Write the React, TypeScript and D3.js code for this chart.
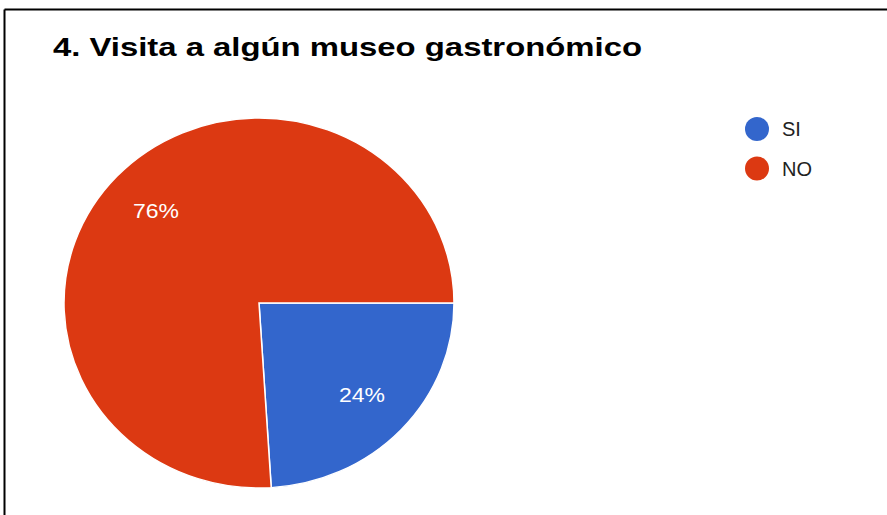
import React from "react";
import * as d3 from "d3";

const categories = ["SI", "NO"];
const values = [24, 76];
const colors = ["#3366cc", "#dc3912"];
const title = "4. Visita a algún museo gastronómico";

const W = 887;
const H = 515;
const cx = 259;
const cy = 303;
const rx = 195;
const ry = 185;

export default function App() {
  const pie = d3
    .pie<number>()
    .sort(null)
    .startAngle(Math.PI / 2)
    .endAngle(Math.PI / 2 + 2 * Math.PI);
  const arcs = pie(values);
  const arc = d3.arc<d3.PieArcDatum<number>>().innerRadius(0).outerRadius(rx);
  const labelArc = d3
    .arc<d3.PieArcDatum<number>>()
    .innerRadius(rx * 0.725)
    .outerRadius(rx * 0.725);
  const total = d3.sum(values);
  const sy = ry / rx;

  return (
    <div style={{ position: "fixed", left: 0, top: 0 }}>
      <svg width={W} height={H} style={{ display: "block", background: "#fff" }}>
        <rect x={0} y={0} width={W} height={H} fill="#fff" />
        <line x1={4.5} y1={9.5} x2={W} y2={9.5} stroke="#000" strokeWidth={2} />
        <line x1={4.5} y1={9.5} x2={4.5} y2={H} stroke="#000" strokeWidth={2} />
        <text
          x={53}
          y={56}
          fontFamily="'Liberation Sans', Arial, sans-serif"
          fontWeight="bold"
          fontSize={26}
          fill="#000"
          textLength={589}
          lengthAdjust="spacingAndGlyphs"
        >
          {title}
        </text>
        <g transform={`translate(${cx},${cy}) scale(1,${sy})`}>
          {arcs.map((a, i) => (
            <path key={categories[i]} d={arc(a) || ""} fill={colors[i]} stroke="#fff" strokeWidth={1.5} />
          ))}
        </g>
        {arcs.map((a, i) => {
          const [lx, ly] = labelArc.centroid(a);
          const pct = Math.round((values[i] / total) * 100) + "%";
          return (
            <text
              key={"l" + categories[i]}
              x={cx + lx}
              y={cy + ly * sy}
              dy="0.35em"
              textAnchor="middle"
              fontFamily="'Liberation Sans', Arial, sans-serif"
              fontSize={20}
              fill="#fff"
              textLength={46}
              lengthAdjust="spacingAndGlyphs"
            >
              {pct}
            </text>
          );
        })}
        {categories.map((c, i) => (
          <g key={"lg" + c} transform={`translate(757,${129 + i * 39.5})`}>
            <circle r={12} fill={colors[i]} />
            <text
              x={25}
              y={0}
              dy="0.36em"
              fontFamily="'Liberation Sans', Arial, sans-serif"
              fontSize={20}
              fill="#222"
            >
              {c}
            </text>
          </g>
        ))}
      </svg>
    </div>
  );
}
